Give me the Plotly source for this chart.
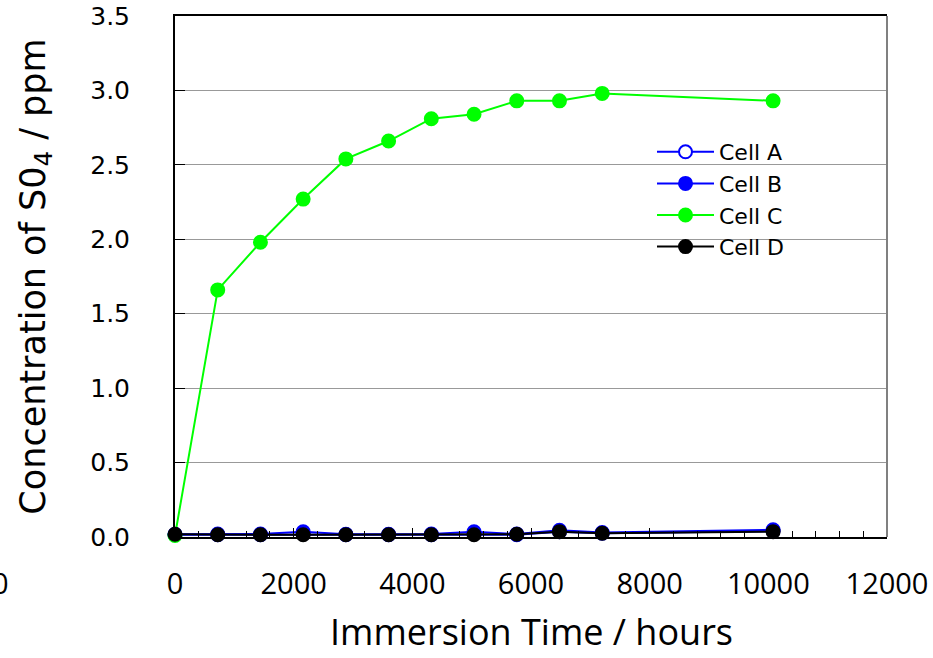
import plotly.graph_objects as go

hours = [0, 720, 1440, 2160, 2880, 3600, 4320, 5040, 5760, 6480, 7200, 10080]
cell_a = [0.015, 0.015, 0.015, 0.02, 0.015, 0.015, 0.015, 0.02, 0.015, 0.035, 0.025, 0.04]
cell_b = [0.018, 0.02, 0.02, 0.035, 0.018, 0.018, 0.02, 0.035, 0.02, 0.045, 0.03, 0.048]
cell_c = [0.01, 1.66, 1.98, 2.27, 2.54, 2.66, 2.81, 2.84, 2.93, 2.93, 2.98, 2.93]
cell_d = [0.018, 0.015, 0.015, 0.015, 0.015, 0.015, 0.015, 0.015, 0.018, 0.036, 0.025, 0.036]

x_ticks = [0, 2000, 4000, 6000, 8000, 10000, 12000]
y_ticks = [0.0, 0.5, 1.0, 1.5, 2.0, 2.5, 3.0, 3.5]
x_title = "Immersion Time / hours"
y_title = "Concentration of S0<sub>4</sub> / ppm"

fig = go.Figure()
series = [
    ("Cell A", cell_a, "#0000ff", "white"),
    ("Cell B", cell_b, "#0000ff", "#0000ff"),
    ("Cell C", cell_c, "#00ff00", "#00ff00"),
    ("Cell D", cell_d, "#000000", "#000000"),
]
for name, vals, lc, fc in series:
    fig.add_trace(go.Scatter(
        x=hours, y=vals, name=name, mode="lines+markers",
        line=dict(color=lc, width=2),
        marker=dict(size=13, color=fc, line=dict(color=lc, width=2)),
        cliponaxis=False,
    ))

fig.update_layout(
    width=933, height=658,
    margin=dict(l=175, r=46, t=16, b=121, autoexpand=False),
    plot_bgcolor="white", paper_bgcolor="white",
    showlegend=True,
    legend=dict(x=(652 - 175) / 712, y=(537 - 131) / 521, xanchor="left", yanchor="top",
                font=dict(family="DejaVu Sans", size=22, color="black"),
                bgcolor="rgba(0,0,0,0)", tracegroupgap=0, itemwidth=57),
    font=dict(family="DejaVu Sans", color="black"),
)
fig.update_xaxes(
    range=[0, 12000], tickvals=x_ticks, ticktext=[str(v) for v in x_ticks],
    showgrid=False, zeroline=False, automargin=False,
    showline=True, linecolor="black", linewidth=2, mirror=True,
    ticks="inside", ticklen=9, tickcolor="black", tickwidth=1,
    minor=dict(dtick=400, ticks="inside", ticklen=6, tickcolor="black", tickwidth=1, showgrid=False),
    tickfont=dict(family="Open Sans", size=29, color="black"),
    ticklabelstandoff=20,
)
fig.update_yaxes(
    range=[0, 3.5], tickvals=y_ticks, ticktext=[f"{v:.1f}" for v in y_ticks],
    showgrid=True, gridcolor="#999999", gridwidth=1, zeroline=False, automargin=False,
    showline=True, linecolor="black", linewidth=2,
    ticks="inside", ticklen=10, tickcolor="black", tickwidth=1,
    tickfont=dict(family="DejaVu Sans", size=25, color="black"),
    ticklabelstandoff=38,
    title=dict(text=y_title, font=dict(family="DejaVu Sans", size=35, color="black"), standoff=34),
)
fig.add_shape(type="line", xref="paper", yref="paper", x0=1, x1=1, y0=0, y1=1,
              line=dict(color="#808080", width=2))
fig.add_annotation(text=x_title, xref="paper", yref="paper", x=0.5, y=-(657 - 537) / 521,
                   xanchor="center", yanchor="bottom", showarrow=False, borderpad=0,
                   font=dict(family="Open Sans", size=36, color="black"))
fig.add_annotation(text="0", xref="paper", yref="paper", x=-175 / 712, y=-45 / 521,
                   xanchor="center", yanchor="middle", showarrow=False,
                   font=dict(family="Open Sans", size=29, color="black"))

fig.write_html("out.html")
